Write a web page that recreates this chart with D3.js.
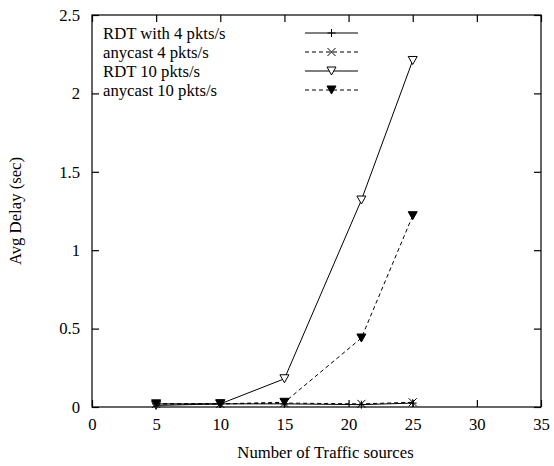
<!DOCTYPE html>
<html>
<head>
<meta charset="utf-8">
<script src="https://cdn.jsdelivr.net/npm/d3@7"></script>
<style>
  html, body { margin: 0; padding: 0; background: #fff; }
  svg { display: block; }
  text { font-family: "Liberation Serif", "Times New Roman", serif; fill: #000; }
</style>
</head>
<body>
<svg id="chart" width="554" height="466"></svg>
<script>
// Number of traffic sources on the x axis
const sources = [5, 10, 15, 21, 25];

// Average delay (seconds) for each configuration
const rdt4 = [0.02, 0.02, 0.02, 0.015, 0.025];
const anycast4 = [0.02, 0.02, 0.025, 0.02, 0.03];
const rdt10 = [0.01, 0.02, 0.18, 1.32, 2.21];
const anycast10 = [0.02, 0.02, 0.03, 0.44, 1.22];

const seriesNames = ["RDT with 4 pkts/s", "anycast 4 pkts/s", "RDT 10 pkts/s", "anycast 10 pkts/s"];

const xTicks = [0, 5, 10, 15, 20, 25, 30, 35];
const yTicks = [0, 0.5, 1, 1.5, 2, 2.5];

const xTitle = "Number of Traffic sources";
const yTitle = "Avg Delay (sec)";

const svg = d3.select("#chart");
const plot = { left: 92, right: 541, top: 15, bottom: 407 };

const x = d3.scaleLinear().domain([0, 35]).range([plot.left, plot.right]);
const y = d3.scaleLinear().domain([0, 2.5]).range([plot.bottom, plot.top]);

const tickLen = 7;
const fontSize = 16.7;

// Axes with inward ticks on every side of the frame
const bottomAxis = d3.axisBottom(x).tickValues(xTicks).tickSize(-tickLen).tickPadding(11)
  .tickFormat(d3.format("d"));
const topAxis = d3.axisTop(x).tickValues(xTicks).tickSize(-tickLen).tickFormat("");
const leftAxis = d3.axisLeft(y).tickValues(yTicks).tickSize(-tickLen).tickPadding(12)
  .tickFormat(d => d === 0 ? "0" : d3.format("")(d));
const rightAxis = d3.axisRight(y).tickValues(yTicks).tickSize(-tickLen).tickFormat("");

function styleAxis(g) {
  g.select(".domain").remove();
  g.selectAll(".tick line").attr("stroke", "#000").attr("stroke-width", 1.2);
  g.selectAll(".tick text").attr("font-family", "Liberation Serif, serif")
    .attr("font-size", fontSize).attr("fill", "#000");
}

svg.append("g").attr("transform", `translate(0,${plot.bottom})`).call(bottomAxis).call(styleAxis);
svg.append("g").attr("transform", `translate(0,${plot.top})`).call(topAxis).call(styleAxis);
svg.append("g").attr("transform", `translate(${plot.left},0)`).call(leftAxis).call(styleAxis);
svg.append("g").attr("transform", `translate(${plot.right},0)`).call(rightAxis).call(styleAxis);

// Plot frame
svg.append("rect")
  .attr("x", plot.left).attr("y", plot.top)
  .attr("width", plot.right - plot.left).attr("height", plot.bottom - plot.top)
  .attr("fill", "none").attr("stroke", "#000").attr("stroke-width", 1.2);

// Axis titles
svg.append("text")
  .attr("x", (plot.left + plot.right) / 2 + 9).attr("y", 458)
  .attr("text-anchor", "middle").attr("font-size", fontSize)
  .text(xTitle);

svg.append("text")
  .attr("transform", `translate(21,${(plot.top + plot.bottom) / 2}) rotate(-90)`)
  .attr("text-anchor", "middle").attr("font-size", fontSize)
  .text(yTitle);

// Marker shapes
function drawMarker(g, type, cx, cy) {
  const s = 4;
  if (type === "plus") {
    g.append("path").attr("d", `M${cx - s},${cy}H${cx + s}M${cx},${cy - s}V${cy + s}`)
      .attr("stroke", "#000").attr("stroke-width", 1).attr("fill", "none");
  } else if (type === "cross") {
    g.append("path").attr("d", `M${cx - s},${cy - s}L${cx + s},${cy + s}M${cx - s},${cy + s}L${cx + s},${cy - s}`)
      .attr("stroke", "#000").attr("stroke-width", 1).attr("fill", "none");
  } else {
    const w = 4.5, h = 4;
    g.append("path").attr("d", `M${cx - w},${cy - h}L${cx + w},${cy - h}L${cx},${cy + h}Z`)
      .attr("stroke", "#000").attr("stroke-width", 1)
      .attr("fill", type === "tri-filled" ? "#000" : "#fff");
  }
}

const series = [
  { name: seriesNames[0], values: rdt4, dash: null, marker: "plus" },
  { name: seriesNames[1], values: anycast4, dash: "4,3", marker: "cross" },
  { name: seriesNames[2], values: rdt10, dash: null, marker: "tri-open" },
  { name: seriesNames[3], values: anycast10, dash: "4,3", marker: "tri-filled" }
];

const line = d3.line().x(d => x(d[0])).y(d => y(d[1]));

series.forEach(s => {
  const pts = sources.map((v, i) => [v, s.values[i]]);
  const g = svg.append("g");
  g.append("path").attr("d", line(pts))
    .attr("fill", "none").attr("stroke", "#000").attr("stroke-width", 1)
    .attr("stroke-dasharray", s.dash);
  pts.forEach(p => drawMarker(g, s.marker, x(p[0]), y(p[1])));
});

// Legend
const legend = svg.append("g");
series.forEach((s, i) => {
  const ly = 33 + i * 19;
  legend.append("text").attr("x", 103).attr("y", ly + 5.5)
    .attr("font-size", fontSize).text(s.name);
  legend.append("line").attr("x1", 305).attr("x2", 358).attr("y1", ly).attr("y2", ly)
    .attr("stroke", "#000").attr("stroke-width", 1).attr("stroke-dasharray", s.dash);
  drawMarker(legend, s.marker, 331.5, ly);
});
</script>
</body>
</html>
